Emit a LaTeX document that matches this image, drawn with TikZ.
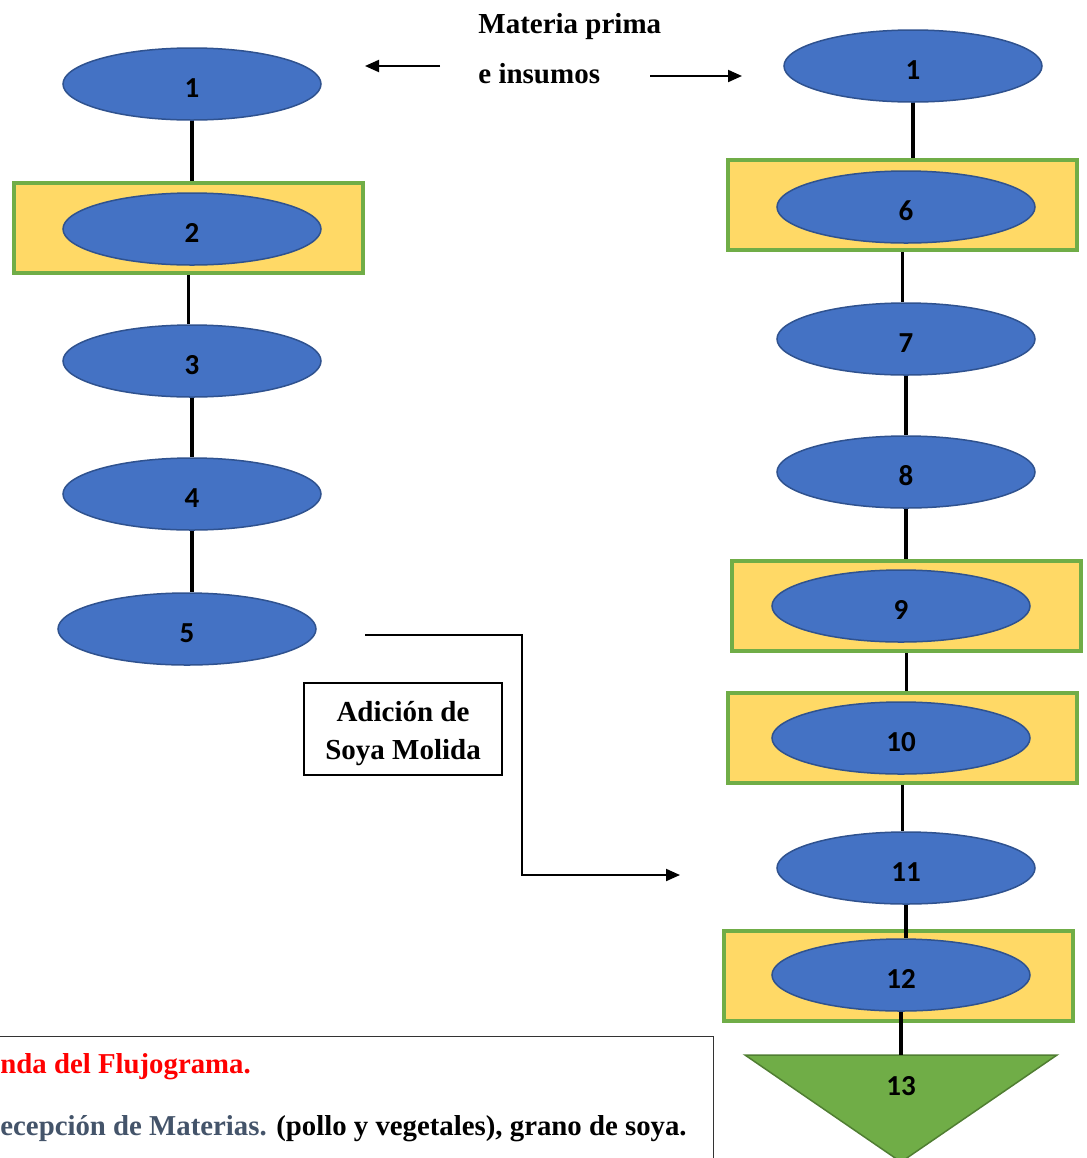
\documentclass[tikz,border=0pt]{standalone}
\usepackage{fontspec}
\setmainfont{Liberation Serif}
\newfontfamily\numfont{Carlito}
\usetikzlibrary{arrows.meta,shapes.geometric}
\definecolor{azul}{HTML}{4472C4}
\definecolor{azulborde}{HTML}{2F528F}
\definecolor{amarillo}{HTML}{FFD966}
\definecolor{verde}{HTML}{70AD47}
\definecolor{verdeborde}{HTML}{507E32}
\definecolor{grisazul}{HTML}{44546A}
\begin{document}
\begin{tikzpicture}[x=.5pt, y=-.5pt,
    etapa/.style={ellipse, draw=azulborde, line width=.75pt, fill=azul, minimum width=129pt, minimum height=36pt, inner sep=0pt, text height=13pt, text depth=0pt, font=\numfont\bfseries\fontsize{14.5}{16}\selectfont},
    marco/.style={rectangle, draw=verde, line width=2pt, fill=amarillo, minimum width=174.5pt, minimum height=45pt, inner sep=0pt},
    linea/.style={line width=1.6pt},
    flecha/.style={line width=1pt, -{Triangle[length=7pt,width=6pt]}},
    rotulo/.style={font=\bfseries\fontsize{14.5}{19}\selectfont, inner sep=0pt}]
  \useasboundingbox (0,0) rectangle (1087,1158);

  % columna izquierda
  \node [marco] (r2) at (188.5,227.5) {};
  \node [etapa] (e1) at (192,84) {1};
  \node [etapa] (e2) at (192,229) {2};
  \node [etapa] (e3) at (192,361) {3};
  \node [etapa] (e4) at (192,494) {4};
  \node [etapa] (e5) at (187,629) {5};

  % columna derecha
  \node [marco] (r6) at (902.5,205) {};
  \node [marco] (r9) at (906.5,606) {};
  \node [marco] (r10) at (902.5,737.5) {};
  \node [marco] (r12) at (898.5,976) {};
  \node [etapa] (d1) at (913,66) {1};
  \node [etapa] (d6) at (906,207) {6};
  \node [etapa] (d7) at (906,339) {7};
  \node [etapa] (d8) at (906,472) {8};
  \node [etapa] (d9) at (901,606) {9};
  \node [etapa] (d10) at (901,738) {10};
  \node [etapa] (d11) at (906,868) {11};
  \node [etapa] (d12) at (901,975) {12};

  % producto final
  \draw [fill=verde, draw=verdeborde, line width=.75pt] (745,1055) -- (1057,1055) -- (901,1162) -- cycle;
  \coordinate (tri) at (901,1055);
  \node [font=\numfont\bfseries\fontsize{14.5}{16}\selectfont] (t13) at (901,1086) {13};

  \foreach \a/\b in {e1/r2, r2/e3, e3/e4, e4/e5, d1/r6, r6/d7, d7/d8, d8/r9, r9/r10, r10/d11, d11/d12}
    \draw [linea] (\a.south) -- (\a.south |- \b.north) ;
  \draw [linea] (d12.south) -- (d12.south |- tri) ;

  % entrada de materia prima
  \node [rotulo, anchor=base west] (mp) at (478,33) {Materia prima};
  \node [rotulo, anchor=base west] (ei) at (478,83) {e insumos};
  \coordinate (fi1) at (440,66);
  \coordinate (fi2) at (365,66);
  \coordinate (fd1) at (650,76);
  \coordinate (fd2) at (742,76);
  \draw [flecha] (fi1) -- (fi2) ;
  \draw [flecha] (fd1) -- (fd2) ;

  % soya
  \node [rotulo, draw, line width=.6pt, align=center, minimum width=99pt, minimum height=46pt] (soya) at (403,729) {\rule{0pt}{15pt}Adición de\\Soya Molida};
  \coordinate (s5) at (365,635);
  \coordinate (l11) at (680,875);
  \draw [flecha] (s5) -- ++(157,0) |- (l11) ;

  % leyenda
  \draw [line width=.5pt, draw=black!80] (-10,1036) rectangle (713,1180) ;
  \node [anchor=base west, inner sep=0pt, font=\bfseries\fontsize{14.4}{16}\selectfont, text=red] (ley) at (0,1073) {nda del Flujograma.};
  \node [anchor=base west, inner sep=0pt, font=\bfseries\fontsize{14.4}{16}\selectfont] (rec) at (0,1135) {\textcolor{grisazul}{ecepción de Materias.} (pollo y vegetales), grano de soya.};
\end{tikzpicture}
\end{document}
